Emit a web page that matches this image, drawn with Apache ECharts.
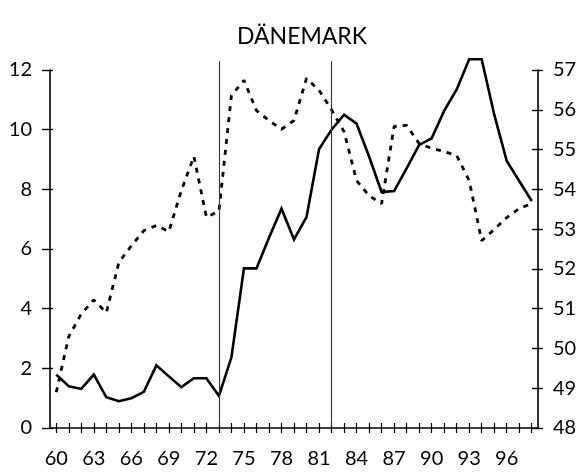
<!DOCTYPE html>
<html>
<head>
<meta charset="utf-8">
<script src="https://cdn.jsdelivr.net/npm/echarts@6/dist/echarts.min.js"></script>
<style>
html,body{margin:0;padding:0;background:#fff;}
#chart{width:581px;height:472px;}
</style>
</head>
<body>
<div id="chart"></div>
<script>
// ---- data ----
var years = ['60','61','62','63','64','65','66','67','68','69','70','71','72','73','74','75','76','77','78','79','80','81','82','83','84','85','86','87','88','89','90','91','92','93','94','95','96','97','98'];
// solid line, left axis
var solidValues = [1.79,1.40,1.31,1.79,1.03,0.90,1.00,1.21,2.10,1.73,1.37,1.67,1.67,1.08,2.37,5.35,5.35,6.38,7.35,6.32,7.07,9.34,10.0,10.5,10.2,9.1,7.91,7.94,8.7,9.49,9.71,10.63,11.35,12.36,12.36,10.51,8.95,8.28,7.61];
// dashed line, right axis
var dashedValues = [48.9,50.3,50.87,51.22,50.9,52.16,52.58,52.96,53.09,52.94,53.97,54.83,53.3,53.45,56.36,56.74,55.98,55.73,55.51,55.73,56.79,56.49,56.0,55.45,54.22,53.84,53.64,55.58,55.61,55.15,55.03,54.95,54.85,54.22,52.71,52.99,53.29,53.52,53.64];
var markerYears = ['73','82'];
var leftTicks = {min:0, max:12, interval:2};
var rightTicks = {min:48, max:57, interval:1};
var titleText = 'DÄNEMARK';

var FONT = 'Lato';
var chart = echarts.init(document.getElementById('chart'), null, {renderer:'canvas'});

function yAx(pos, ticks, inside, len, showLabel, showLine){
  return {
    type:'value', position:pos, min:ticks.min, max:ticks.max, interval:ticks.interval, gridIndex:0,
    splitLine:{show:false},
    axisLine:{show:showLine, lineStyle:{color:'#000', width:1.6}},
    axisTick:{show:true, inside:inside, length:len, lineStyle:{color:'#000', width:1.4}},
    axisLabel:{show:showLabel, color:'#000', fontFamily:FONT, fontSize:20, margin: pos==='left'?18:15}
  };
}

chart.setOption({
  animation:false,
  backgroundColor:'#fff',
  title:{text:titleText, left:297, top:20, textAlign:'center',
    textStyle:{fontFamily:FONT, fontSize:23, fontWeight:'normal', color:'#000'}},
  grid:[
    {left:50, right:43, top:70, bottom:44, containLabel:false},
    {left:50, right:43, top:61, bottom:44, containLabel:false}
  ],
  xAxis:[
    {type:'category', data:years, boundaryGap:true, position:'bottom', gridIndex:0,
     axisLine:{show:true, lineStyle:{color:'#000', width:1.6}},
     axisTick:{show:true, interval:0, alignWithLabel:true, length:5, lineStyle:{color:'#000', width:1.2}},
     axisLabel:{interval:2, color:'#000', fontFamily:FONT, fontSize:20, margin:21},
     splitLine:{show:false}},
    {type:'category', data:years, boundaryGap:true, position:'bottom', gridIndex:0,
     axisLine:{show:false},
     axisTick:{show:true, inside:true, interval:0, alignWithLabel:true, length:5, lineStyle:{color:'#000', width:1.2}},
     axisLabel:{show:false}, splitLine:{show:false}},
    {type:'category', data:years, boundaryGap:true, gridIndex:1, show:false}
  ],
  yAxis:[
    yAx('left', leftTicks, false, 8, true, true),
    yAx('right', rightTicks, false, 5, true, true),
    yAx('left', leftTicks, true, 3, false, false),
    yAx('right', rightTicks, true, 6, false, false),
    {type:'value', gridIndex:1, min:0, max:1, show:false}
  ],
  series:[
    {type:'line', name:'markers', data:[], xAxisIndex:2, yAxisIndex:4, silent:true,
     markLine:{silent:true, symbol:'none', label:{show:false},
       lineStyle:{color:'#333', width:1.1, type:'solid'},
       data: markerYears.map(function(y){ return {xAxis:y}; })}
    },
    {type:'line', name:'solid', data:solidValues, xAxisIndex:0, yAxisIndex:0,
     symbol:'none', clip:false, silent:true,
     lineStyle:{color:'#000', width:2.6, join:'miter'}},
    {type:'line', name:'dashed', data:dashedValues, xAxisIndex:0, yAxisIndex:1,
     symbol:'none', clip:false, silent:true,
     lineStyle:{color:'#000', width:2.8, type:[5,6]}}
  ]
});
</script>
</body>
</html>
